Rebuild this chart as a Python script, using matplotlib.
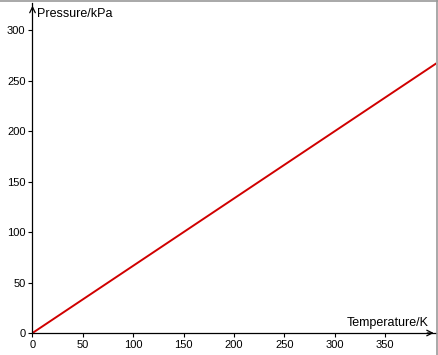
import matplotlib.pyplot as plt

plt.rcParams['font.family'] = ['Liberation Sans', 'DejaVu Sans']

temperature = [0, 401]
pressure = [0, 267.3]
x_ticks = [0, 50, 100, 150, 200, 250, 300, 350]
y_ticks = [0, 50, 100, 150, 200, 250, 300]

W, H = 439, 355
fig = plt.figure(figsize=(W / 100, H / 100), dpi=100)
ax = fig.add_axes([32.5 / W, 22 / H, (436.5 - 32.5) / W, (333 - 3) / H])

ax.plot(temperature, pressure, color='#d00000', lw=1.4, solid_capstyle='butt')
ax.set_xlim(0, 401)
ax.set_ylim(0, 327)
ax.set_xticks(x_ticks)
ax.set_yticks(y_ticks)
ax.tick_params(labelsize=8, length=3, width=0.8, pad=2)

for s in ['top', 'right']:
    ax.spines[s].set_visible(False)
for s in ['left', 'bottom']:
    ax.spines[s].set_linewidth(0.9)

# arrow heads on axes
ax.annotate('', xy=(1.0, 0), xytext=(0.97, 0), xycoords='axes fraction',
            arrowprops=dict(arrowstyle='->', lw=0.9, color='black'))
ax.annotate('', xy=(0, 1.0), xytext=(0, 0.97), xycoords='axes fraction',
            arrowprops=dict(arrowstyle='->', lw=0.9, color='black'))

ax.text(0.012, 0.985, 'Pressure/kPa', transform=ax.transAxes, fontsize=9,
        ha='left', va='top')
ax.text(0.98, 0.012, 'Temperature/K', transform=ax.transAxes, fontsize=9,
        ha='right', va='bottom')

# grey frame on top and right edges
fig.add_artist(plt.Line2D([0, 1], [1 - 0.5 / H, 1 - 0.5 / H], color='#999999', lw=1.2))
fig.add_artist(plt.Line2D([437.5 / W, 437.5 / W], [0, 1], color='#999999', lw=1.2))

fig.savefig('out.png', dpi=100)
